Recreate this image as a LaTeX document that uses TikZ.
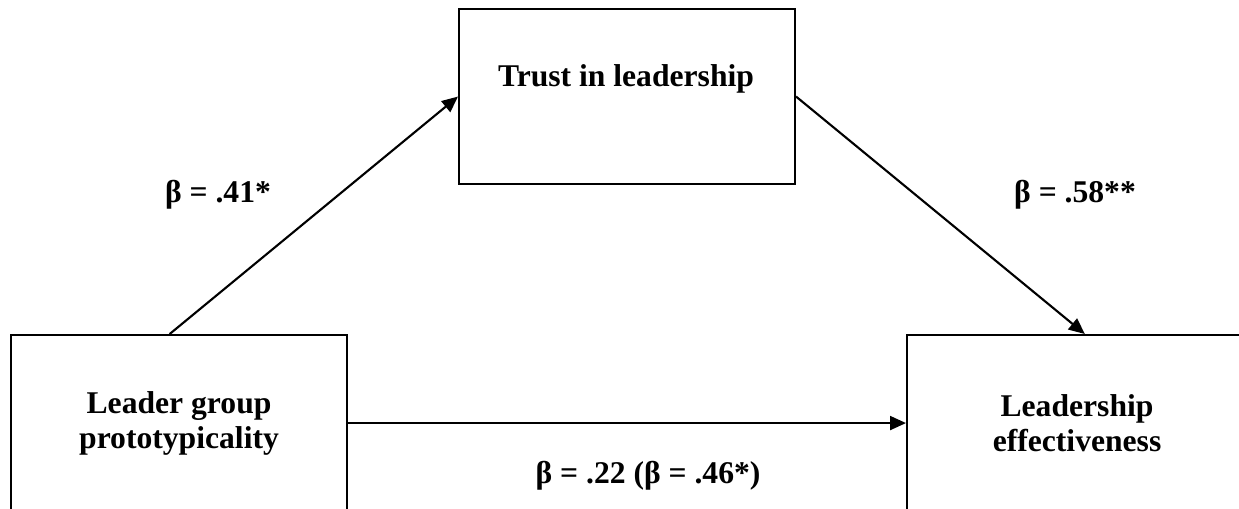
\documentclass[tikz,border=0pt]{standalone}
\usepackage{fontspec}
\setmainfont{Liberation Serif}
\usetikzlibrary{arrows.meta}

\begin{document}
\begin{tikzpicture}[x=0.02cm, y=-0.02cm,
    varbox/.style={draw, line width=1.2pt, inner sep=0pt, anchor=north west,
        align=center, font=\fontsize{18}{19.9}\selectfont\bfseries},
    effect/.style={-{Triangle[length=0.32cm, width=0.28cm]}, line width=1.2pt},
    coef/.style={font=\fontsize{18}{21}\selectfont\bfseries}]
    \clip (0,0) rectangle (1239,508);

    % TOP: mediator
    \node[varbox, minimum width=6.72cm, minimum height=3.5cm] (trust) at (458,8) {};
    \node[coef] (trusttext) at (626,79) {Trust in leadership};

    % LEFT: predictor
    \node[varbox, minimum width=6.72cm, minimum height=3.52cm] (leader) at (10,334)
        {Leader group\\prototypicality};

    % RIGHT: outcome
    \node[varbox, minimum width=6.8cm, minimum height=3.52cm] (outcome) at (906,334)
        {Leadership\\effectiveness};

    % Paths
    \draw[effect] (leader.96) -- (trust.west);
    \draw[effect] (trust.east) -- (outcome.85);
    \draw[effect] (leader.east) -- (outcome.west);

    % Coefficients
    \node[coef] (pathA) at (218,195) {β = .41*};
    \node[coef] (pathB) at (1075,195) {β = .58**};
    \node[coef] (pathC) at (648,476) {β = .22 (β = .46*)};
\end{tikzpicture}
\end{document}
